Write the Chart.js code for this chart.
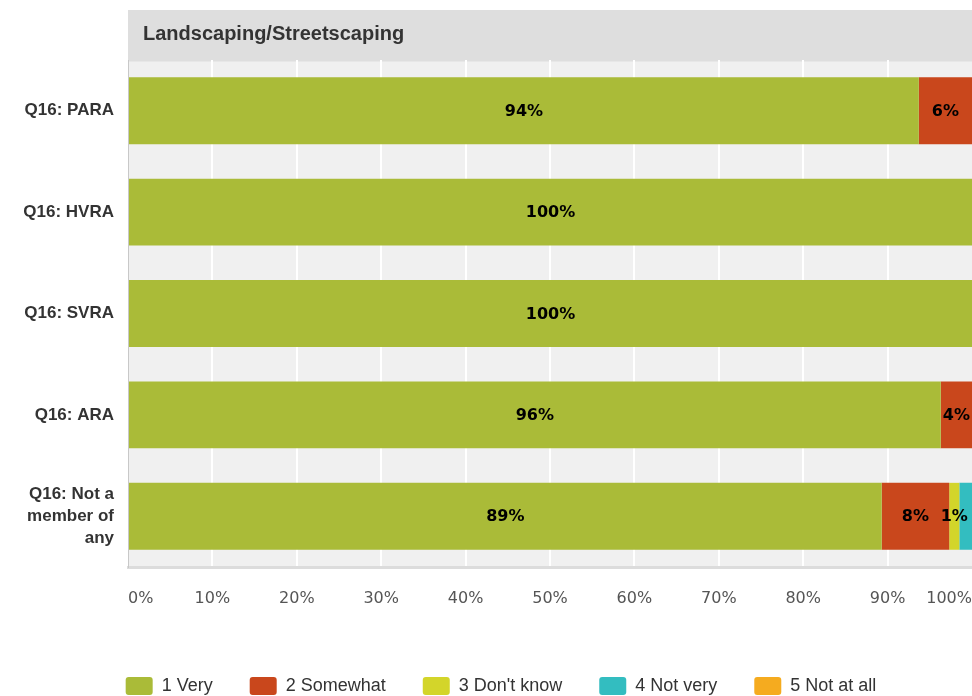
<!DOCTYPE html>
<html>
<head>
<meta charset="utf-8">
<script src="https://cdn.jsdelivr.net/npm/chart.js@4/dist/chart.umd.min.js"></script>
<style>
html,body{margin:0;padding:0;background:#fff;}
#wrap{width:972px;height:696px;position:relative;}
</style>
</head>
<body>
<div id="wrap"><canvas id="c" width="972" height="696"></canvas></div>
<script>
const chartTitle = 'Landscaping/Streetscaping';
const categories = ['Q16: PARA', 'Q16: HVRA', 'Q16: SVRA', 'Q16: ARA', ['Q16: Not a', 'member of', 'any']];
const seriesNames = ['1 Very', '2 Somewhat', "3 Don't know", '4 Not very', '5 Not at all'];
const veryValues = [93.7, 100, 100, 96.3, 89.3];
const somewhatValues = [6.3, 0, 0, 3.7, 8.0];
const dontKnowValues = [0, 0, 0, 0, 1.2];
const notVeryValues = [0, 0, 0, 0, 1.5];
const notAtAllValues = [0, 0, 0, 0, 0];
const xTicks = [0, 10, 20, 30, 40, 50, 60, 70, 80, 90, 100];

const colors = ['#aabb38', '#c9471c', '#d3d52a', '#33bdc0', '#f5ab1f'];
const seriesValues = [veryValues, somewhatValues, dontKnowValues, notVeryValues, notAtAllValues];

const bgPlugin = {
  id: 'bgPlugin',
  afterLayout(chart) {
    if (chart.legend) {
      chart.legend.left += 15;
      chart.legend.right += 15;
    }
  },
  beforeDraw(chart) {
    const {ctx, chartArea: a} = chart;
    ctx.save();
    ctx.fillStyle = '#f0f0f0';
    ctx.fillRect(a.left, a.top, a.right - a.left, a.bottom - a.top);
    ctx.fillStyle = '#dedede';
    ctx.fillRect(a.left, 10, a.right - a.left, a.top + 1.5 - 10);
    ctx.fillStyle = '#333333';
    ctx.font = 'bold 20px "Liberation Sans", Arial, sans-serif';
    ctx.textBaseline = 'middle';
    ctx.textAlign = 'left';
    ctx.fillText(chartTitle, a.left + 15, 34);
    ctx.restore();
  }
};

const labelPlugin = {
  id: 'labelPlugin',
  afterDatasetsDraw(chart) {
    const {ctx} = chart;
    ctx.save();
    ctx.font = 'bold 16px "DejaVu Sans", sans-serif';
    ctx.fillStyle = '#000';
    ctx.textAlign = 'center';
    ctx.textBaseline = 'middle';
    const n = chart.data.labels.length;
    for (let i = 0; i < n; i++) {
      let lastRight = -Infinity;
      chart.data.datasets.forEach((ds, di) => {
        const v = ds.data[i];
        if (!(v >= 0.5)) return;
        const el = chart.getDatasetMeta(di).data[i];
        const cx = (el.base + el.x) / 2;
        const txt = Math.round(v) + '%';
        const w = ctx.measureText(txt).width;
        if (cx - w / 2 < lastRight) return;
        ctx.fillText(txt, cx, el.y + 1);
        lastRight = cx + w / 2;
      });
    }
    ctx.restore();
  }
};

new Chart(document.getElementById('c'), {
  type: 'bar',
  data: {
    labels: categories,
    datasets: seriesNames.map((name, i) => ({
      label: name,
      data: seriesValues[i],
      backgroundColor: colors[i],
      borderWidth: 0,
      barPercentage: 0.66,
      categoryPercentage: 1.0
    }))
  },
  options: {
    indexAxis: 'y',
    responsive: false,
    animation: false,
    layout: {padding: {left: 0, right: 0, top: 60, bottom: -9}},
    scales: {
      x: {
        stacked: true,
        min: 0,
        max: 100,
        afterBuildTicks(scale) { scale.ticks = xTicks.map(v => ({value: v})); },
        afterFit(scale) { scale.height = 73; scale.paddingLeft = 0; scale.paddingRight = 0; },
        ticks: {
          align: 'inner',
          padding: 22,
          color: '#555',
          font: {family: '"DejaVu Sans", sans-serif', size: 16},
          maxRotation: 0,
          autoSkip: false,
          callback: v => v + '%'
        },
        grid: {
          drawTicks: false,
          lineWidth: 2,
          color: ctx => (ctx.index === 0 || ctx.index === xTicks.length - 1) ? 'rgba(0,0,0,0)' : '#ffffff'
        },
        border: {display: true, color: '#dcdcdc', width: 3}
      },
      y: {
        stacked: true,
        afterFit(scale) { scale.width = 128; },
        ticks: {
          padding: 14,
          color: '#333',
          font: {family: '"Liberation Sans", Arial, sans-serif', size: 17, weight: 'bold', lineHeight: 1.32},
          autoSkip: false
        },
        grid: {display: false, drawTicks: false},
        border: {display: true, color: '#c8c8c8', width: 1}
      }
    },
    plugins: {
      legend: {
        position: 'bottom',
        labels: {
          boxWidth: 27,
          boxHeight: 18,
          padding: 37,
          color: '#333',
          useBorderRadius: true,
          borderRadius: 3,
          font: {family: '"Liberation Sans", Arial, sans-serif', size: 18}
        }
      },
      tooltip: {enabled: false},
      title: {display: false}
    }
  },
  plugins: [bgPlugin, labelPlugin]
});
</script>
</body>
</html>
